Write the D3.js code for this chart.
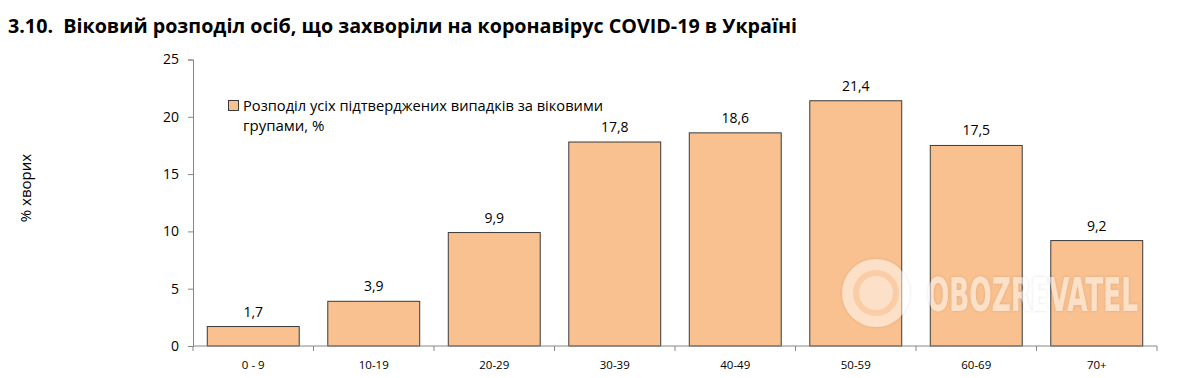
<!DOCTYPE html>
<meta charset="utf-8">
<head>
  <script src="https://d3js.org/d3.v7.min.js"></script>
<style>
body { margin: 0; background: #fff; }
text { font-family: "Open Sans", "Noto Sans", sans-serif; fill: #000; }
</style>
</head>
<body>
<script>

// Data
var groups = ["0 - 9", "10-19", "20-29", "30-39", "40-49", "50-59", "60-69", "70+"];
var shares = [1.7, 3.9, 9.9, 17.8, 18.6, 21.4, 17.5, 9.2];
var yTicks = [0, 5, 10, 15, 20, 25];
var legendLines = ["Розподіл усіх підтверджених випадків за віковими", "групами, %"];

var W = 1188, H = 378;
var margin = {top: 59.5, left: 193, right: 30, bottom: 32};
var width = 1157 - margin.left,
    height = 346 - margin.top;

var svg = d3.select("body").append("svg")
    .attr("width", W)
    .attr("height", H);

var defs = svg.append("defs");
defs.append("filter").attr("id", "shadow")
    .attr("x", "-10%").attr("y", "-20%").attr("width", "120%").attr("height", "140%")
  .append("feDropShadow")
    .attr("dx", 0).attr("dy", 0).attr("stdDeviation", 1.5)
    .attr("flood-color", "#000").attr("flood-opacity", 0.25);

// Title
svg.append("text")
    .attr("x", 8).attr("y", 33)
    .attr("textLength", 789).attr("lengthAdjust", "spacingAndGlyphs")
    .style("font-size", "20px").style("font-weight", "bold")
    .style("white-space", "pre")
    .text("3.10.  Віковий розподіл осіб, що захворіли на коронавірус COVID-19 в Україні");

var g = svg.append("g")
    .attr("transform", "translate(" + margin.left + "," + margin.top + ")");

// Scales
var x = d3.scaleBand()
    .domain(groups)
    .range([0, width])
    .paddingInner(0.237)
    .paddingOuter(0.1185);
var y = d3.scaleLinear()
    .domain([0, 25])
    .range([height, 0]);

// Bars
g.selectAll(".bar")
    .data(shares)
    .enter().append("rect")
    .attr("class", "bar")
    .attr("x", function(d, i) { return x(groups[i]); })
    .attr("width", x.bandwidth())
    .attr("y", function(d) { return y(d); })
    .attr("height", function(d) { return height - y(d); })
    .attr("fill", "#F9C190")
    .attr("stroke", "#3a3a3a")
    .attr("stroke-width", 1);

// Value labels
g.selectAll(".val")
    .data(shares)
    .enter().append("text")
    .attr("x", function(d, i) { return x(groups[i]) + x.bandwidth() / 2; })
    .attr("y", function(d) { return y(d) - 10; })
    .attr("text-anchor", "middle")
    .style("font-size", "14px")
    .text(function(d) { return String(d).replace(".", ","); });

// Y axis
var yAxis = g.append("g")
    .call(d3.axisLeft(y).tickValues(yTicks).tickSize(5).tickPadding(9));
yAxis.selectAll("path, line").attr("stroke", "#868686");
yAxis.selectAll("text").style("font-size", "14px").style("font-family", "'Open Sans', sans-serif");

// X axis (ticks at band boundaries)
var xg = g.append("g").attr("transform", "translate(0," + height + ")");
xg.append("line").attr("x1", 0).attr("x2", width).attr("stroke", "#868686");
var step = x.step();
var bounds = d3.range(groups.length + 1).map(function(i) { return x(groups[0]) - step * 0.1185 + i * step; });
xg.selectAll(".tk").data(bounds).enter().append("line")
    .attr("x1", function(d) { return d; }).attr("x2", function(d) { return d; })
    .attr("y1", 0).attr("y2", 5).attr("stroke", "#868686");
xg.selectAll(".xl").data(groups).enter().append("text")
    .attr("x", function(d) { return x(d) + x.bandwidth() / 2; })
    .attr("y", 23)
    .attr("text-anchor", "middle")
    .style("font-size", "11.5px")
    .text(function(d) { return d; });

// Y title
svg.append("text")
    .attr("transform", "translate(31,188) rotate(-90)")
    .attr("text-anchor", "middle")
    .style("font-size", "15px")
    .text("% хворих");

// Legend
svg.append("rect")
    .attr("x", 228.5).attr("y", 100.5).attr("width", 10).attr("height", 10)
    .attr("fill", "#F9C190").attr("stroke", "#3a3a3a");
svg.selectAll(".leg").data(legendLines).enter().append("text")
    .attr("x", 243)
    .attr("y", function(d, i) { return 111 + i * 19.5; })
    .attr("textLength", function(d, i) { return i === 0 ? 360 : null; })
    .attr("lengthAdjust", "spacingAndGlyphs")
    .style("font-size", "15px")
    .text(function(d) { return d; });

// Watermark
var wm = svg.append("g").attr("opacity", 0.5).attr("filter", "url(#shadow)");
wm.append("circle").attr("cx", 876).attr("cy", 293).attr("r", 34).attr("fill", "#fff");
wm.append("circle").attr("cx", 876).attr("cy", 293).attr("r", 20)
    .attr("fill", "none").attr("stroke", "#F9C190").attr("stroke-width", 6).attr("opacity", 0.6);
wm.append("text")
    .attr("x", 927).attr("y", 311)
    .attr("textLength", 211).attr("lengthAdjust", "spacingAndGlyphs")
    .style("font-size", "46px").style("font-weight", "bold")
    .style("font-family", "'DejaVu Sans Condensed', sans-serif")
    .style("fill", "#fff")
    .text("OBOZREVATEL");

</script>
</body>
